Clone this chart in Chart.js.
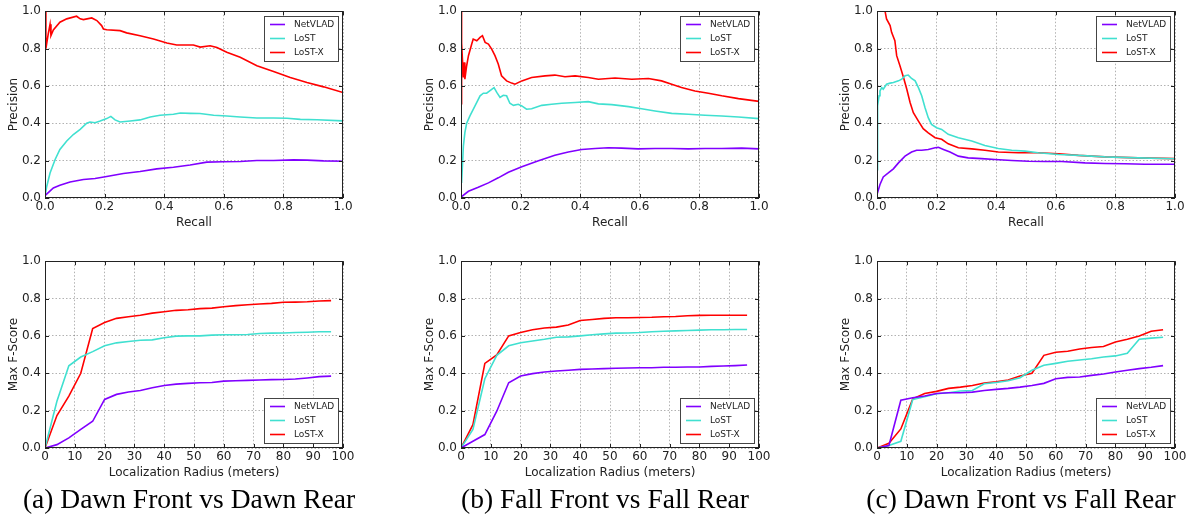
<!DOCTYPE html>
<html lang="en">
<head>
  <meta charset="UTF-8" />
  <title>Precision-Recall and Max F-Score</title>
  <script src="https://cdn.jsdelivr.net/npm/chart.js"></script>
  <style>
    body {
      margin: 0;
      background: #fff;
      width: 1188px;
      height: 516px;
      position: relative;
      overflow: hidden;
    }
    .panel {
      position: absolute;
      width: 357px;
      height: 240px;
    }
    .caption {
      position: absolute;
      top: 484px;
      width: 400px;
      text-align: center;
      font-family: 'Liberation Serif', 'Times New Roman', serif;
      font-size: 27.5px;
      line-height: 30px;
      color: #000;
      white-space: nowrap;
    }
  </style>
</head>
<body>
  <div class="panel" style="left:0;top:0"><canvas id="prA" width="357" height="240"></canvas></div>
  <div class="panel" style="left:416px;top:0"><canvas id="prB" width="357" height="240"></canvas></div>
  <div class="panel" style="left:832px;top:0"><canvas id="prC" width="357" height="240"></canvas></div>
  <div class="panel" style="left:0;top:250px"><canvas id="fA" width="357" height="240"></canvas></div>
  <div class="panel" style="left:416px;top:250px"><canvas id="fB" width="357" height="240"></canvas></div>
  <div class="panel" style="left:832px;top:250px"><canvas id="fC" width="357" height="240"></canvas></div>

  <div class="caption" style="left:-11px">(a) Dawn Front vs Dawn Rear</div>
  <div class="caption" style="left:405px">(b) Fall Front vs Fall Rear</div>
  <div class="caption" style="left:821px">(c) Dawn Front vs Fall Rear</div>

  <script>
    // ---- precision / recall, (a) dawn front vs dawn rear
    const aNetR = [0, .028, .05, .084, .129, .168, .207, .263, .319, .375, .431, .487, .543, .599, .655, .711, .767, .834, .879, .935, 1.0];
    const aNetP = [.013, .054, .068, .086, .099, .104, .115, .131, .142, .156, .165, .177, .192, .194, .195, .201, .201, .204, .203, .199, .197];
    const aLostR = [0, .006, .017, .034, .05, .073, .095, .118, .14, .151, .168, .185, .207, .221, .235, .252, .286, .319, .353, .386, .431, .454, .487, .52, .566, .61, .655, .711, .767, .812, .857, .913, 1.0];
    const aLostP = [.01, .063, .134, .206, .26, .305, .34, .367, .40, .407, .403, .412, .425, .437, .418, .407, .412, .418, .434, .443, .448, .455, .453, .452, .443, .439, .434, .428, .428, .427, .421, .419, .413];
    const aLostXR = [0, .003, .011, .017, .02, .028, .05, .073, .106, .118, .129, .157, .174, .19, .196, .207, .252, .274, .319, .364, .409, .442, .498, .521, .554, .577, .61, .655, .711, .767, .823, .879, .935, 1.0];
    const aLostXP = [1.0, .80, .88, .93, .87, .90, .941, .959, .973, .959, .955, .964, .95, .923, .905, .901, .896, .884, .869, .851, .83, .819, .819, .808, .815, .806, .78, .753, .708, .677, .645, .618, .595, .565];

    // ---- (b) fall front vs fall rear
    const bNetR = [0, .025, .058, .092, .125, .159, .204, .26, .315, .36, .405, .45, .494, .539, .595, .651, .707, .763, .819, .875, .942, 1.0];
    const bNetP = [.005, .036, .057, .081, .108, .138, .167, .199, .229, .246, .26, .265, .269, .267, .263, .265, .265, .263, .265, .265, .267, .263];
    const bLostR = [.002, .008, .013, .019, .03, .047, .064, .075, .086, .103, .111, .12, .131, .142, .153, .164, .176, .192, .204, .22, .237, .271, .304, .338, .383, .427, .461, .506, .562, .606, .651, .707, .763, .819, .875, .931, 1.0];
    const bLostP = [.08, .278, .35, .40, .44, .493, .547, .561, .561, .582, .591, .565, .538, .55, .547, .507, .496, .502, .493, .475, .478, .496, .502, .507, .511, .516, .504, .50, .489, .478, .466, .453, .448, .443, .439, .434, .425];
    const bLostXR = [0, .001, .003, .008, .011, .013, .019, .025, .036, .041, .053, .064, .072, .081, .092, .103, .114, .125, .136, .153, .17, .181, .204, .237, .282, .315, .349, .383, .427, .461, .517, .573, .629, .673, .707, .74, .785, .83, .875, .931, 1.0];
    const bLostXP = [1.0, .50, .83, .645, .726, .636, .708, .762, .824, .851, .842, .86, .869, .833, .824, .797, .762, .717, .654, .627, .615, .609, .627, .645, .654, .658, .649, .654, .645, .636, .642, .636, .64, .627, .609, .591, .573, .561, .547, .532, .517];

    // ---- (c) dawn front vs fall rear
    const cNetR = [0, .01, .021, .038, .055, .072, .094, .116, .133, .15, .172, .195, .206, .223, .245, .273, .306, .351, .396, .452, .508, .564, .62, .698, .765, .832, .899, 1.0];
    const cNetP = [.018, .072, .113, .134, .156, .188, .224, .246, .256, .256, .26, .269, .271, .26, .246, .224, .215, .211, .206, .201, .197, .195, .195, .188, .185, .183, .181, .181];
    const cLostR = [0, .002, .007, .01, .016, .021, .032, .044, .055, .072, .083, .094, .105, .116, .128, .139, .15, .161, .172, .183, .2, .217, .239, .273, .318, .362, .407, .452, .497, .541, .609, .676, .765, .877, 1.0];
    const cLostP = [.152, .493, .547, .573, .591, .582, .609, .615, .618, .627, .636, .654, .658, .64, .627, .591, .547, .484, .43, .394, .376, .367, .341, .323, .305, .281, .265, .256, .251, .242, .233, .228, .22, .215, .21];
    const cLostXR = [0, .027, .032, .044, .049, .06, .066, .077, .089, .1, .111, .122, .139, .155, .172, .195, .217, .239, .273, .318, .362, .407, .474, .541, .609, .676, .765, .877, 1.0];
    const cLostXP = [1.0, 1.0, .959, .923, .887, .842, .762, .708, .645, .582, .511, .457, .412, .371, .349, .323, .314, .29, .269, .263, .256, .246, .242, .242, .237, .228, .22, .215, .211];

    // ---- max F-score vs localization radius (meters)
    const radius = [0, 4, 8, 12, 16, 20, 24, 28, 32, 36, 40, 44, 48, 52, 56, 60, 64, 68, 72, 76, 80, 84, 88, 92, 96];
    const aNetF = [0, .018, .054, .10, .143, .26, .287, .30, .308, .323, .335, .342, .346, .349, .351, .358, .36, .362, .364, .366, .367, .369, .375, .382, .385];
    const aLostF = [0, .25, .44, .487, .516, .547, .563, .57, .577, .579, .59, .599, .60, .60, .604, .606, .606, .608, .613, .615, .616, .618, .62, .622, .622];
    const aLostXF = [0, .174, .278, .40, .64, .672, .694, .703, .711, .722, .729, .737, .74, .746, .749, .756, .762, .767, .771, .774, .78, .781, .783, .787, .789];
    const bNetF = [0, .036, .072, .197, .349, .385, .398, .407, .412, .416, .421, .423, .425, .427, .428, .43, .43, .432, .432, .434, .434, .437, .439, .441, .444];
    const bLostF = [0, .099, .371, .496, .547, .563, .573, .582, .593, .595, .60, .606, .611, .615, .616, .618, .622, .625, .627, .629, .631, .633, .633, .634, .634];
    const bLostXF = [0, .125, .453, .498, .60, .618, .633, .642, .647, .658, .683, .688, .694, .697, .697, .699, .70, .703, .704, .708, .71, .711, .711, .711, .711];
    const cNetF = [0, .013, .256, .269, .278, .292, .296, .296, .299, .308, .314, .319, .326, .335, .346, .371, .378, .38, .389, .396, .407, .416, .425, .432, .441];
    const cLostF = [0, .013, .036, .26, .274, .29, .296, .305, .308, .344, .351, .36, .376, .416, .443, .453, .464, .471, .478, .487, .493, .507, .582, .588, .593];
    const cLostXF = [0, .025, .102, .263, .292, .303, .319, .326, .335, .348, .355, .364, .385, .40, .496, .513, .518, .53, .538, .543, .568, .582, .599, .625, .633];

    const COLORS = { 'NetVLAD': '#8000ff', 'LoST': '#40e0d0', 'LoST-X': '#ff0000' };
    const FONT = { family: 'DejaVu Sans', size: 12 };
    const TEXT = '#222';

    function pts(xs, ys) {
      return xs.map((x, i) => ({ x: x, y: ys[i] }));
    }

    // matplotlib-like box around the axes, inward ticks, and a framed legend
    const framePlugin = {
      id: 'frame',
      afterDatasetsDraw(chart, args, opts) {
        const ctx = chart.ctx;
        const a = chart.chartArea;
        const sx = chart.scales.x, sy = chart.scales.y;
        ctx.save();
        ctx.strokeStyle = '#222';
        ctx.lineWidth = 1;
        ctx.strokeRect(Math.round(a.left) + 0.5, Math.round(a.top) + 0.5,
          Math.round(a.right - a.left) - 1, Math.round(a.bottom - a.top) - 1);
        ctx.beginPath();
        sx.ticks.forEach(t => {
          const px = Math.round(sx.getPixelForValue(t.value)) + 0.5;
          ctx.moveTo(px, a.bottom); ctx.lineTo(px, a.bottom - 4);
          ctx.moveTo(px, a.top); ctx.lineTo(px, a.top + 4);
        });
        sy.ticks.forEach(t => {
          const py = Math.round(sy.getPixelForValue(t.value)) + 0.5;
          ctx.moveTo(a.left, py); ctx.lineTo(a.left + 4, py);
          ctx.moveTo(a.right, py); ctx.lineTo(a.right - 4, py);
        });
        ctx.stroke();

        // legend
        const boxW = 74, boxH = 45;
        const bx = Math.round(a.right - 5 - boxW);
        const by = Math.round(opts.legendAt === 'top' ? a.top + 5 : a.bottom - 5 - boxH);
        ctx.fillStyle = '#fff';
        ctx.fillRect(bx, by, boxW, boxH);
        ctx.strokeStyle = '#444';
        ctx.strokeRect(bx + 0.5, by + 0.5, boxW, boxH);
        ctx.font = '9px "DejaVu Sans"';
        ctx.textBaseline = 'middle';
        chart.data.datasets.forEach((ds, i) => {
          const yy = by + 8.5 + i * 14;
          ctx.strokeStyle = ds.borderColor;
          ctx.lineWidth = 1.6;
          ctx.beginPath();
          ctx.moveTo(bx + 6, yy);
          ctx.lineTo(bx + 21, yy);
          ctx.stroke();
          ctx.fillStyle = TEXT;
          ctx.fillText(ds.label, bx + 30, yy);
        });
        ctx.restore();
      }
    };

    function makeChart(id, cfg) {
      new Chart(document.getElementById(id), {
        type: 'line',
        data: {
          datasets: cfg.lines.map(l => ({
            label: l.name,
            data: l.data,
            borderColor: COLORS[l.name],
            backgroundColor: COLORS[l.name],
            borderWidth: 1.6,
            pointRadius: 0,
            tension: 0,
            fill: false
          }))
        },
        options: {
          responsive: false,
          animation: false,
          layout: { padding: { top: 11, right: 14, left: 0, bottom: 0 } },
          plugins: {
            legend: { display: false },
            tooltip: { enabled: false },
            frame: { legendAt: cfg.legendAt }
          },
          scales: {
            x: {
              type: 'linear',
              min: 0,
              max: cfg.xMax,
              ticks: {
                stepSize: cfg.xStep,
                autoSkip: false,
                maxRotation: 0,
                padding: 2,
                color: TEXT,
                font: FONT,
                callback: v => cfg.xMax === 1 ? v.toFixed(1) : String(Math.round(v))
              },
              grid: { color: 'rgba(0,0,0,0.3)', drawTicks: false },
              border: { display: false, dash: [1.5, 2] },
              title: { display: true, text: cfg.xTitle, color: TEXT, font: FONT, padding: { top: 0, bottom: 10 } },
              afterFit: s => { s.height = 42; }
            },
            y: {
              min: 0,
              max: 1,
              ticks: {
                stepSize: 0.2,
                padding: 4,
                color: TEXT,
                font: FONT,
                callback: v => v.toFixed(1)
              },
              grid: { color: 'rgba(0,0,0,0.3)', drawTicks: false },
              border: { display: false, dash: [1.5, 2] },
              title: { display: true, text: cfg.yTitle, color: TEXT, font: FONT, padding: { top: 7, bottom: 0 } },
              afterFit: s => { s.width = 45; }
            }
          }
        },
        plugins: [framePlugin]
      });
    }

    const prPanels = [
      ['prA', [pts(aNetR, aNetP), pts(aLostR, aLostP), pts(aLostXR, aLostXP)]],
      ['prB', [pts(bNetR, bNetP), pts(bLostR, bLostP), pts(bLostXR, bLostXP)]],
      ['prC', [pts(cNetR, cNetP), pts(cLostR, cLostP), pts(cLostXR, cLostXP)]]
    ];
    const fPanels = [
      ['fA', [aNetF, aLostF, aLostXF]],
      ['fB', [bNetF, bLostF, bLostXF]],
      ['fC', [cNetF, cLostF, cLostXF]]
    ];
    const names = ['NetVLAD', 'LoST', 'LoST-X'];

    prPanels.forEach(([id, series]) => {
      makeChart(id, {
        xMax: 1, xStep: 0.2, xTitle: 'Recall', yTitle: 'Precision', legendAt: 'top',
        lines: series.map((d, i) => ({ name: names[i], data: d }))
      });
    });
    fPanels.forEach(([id, series]) => {
      makeChart(id, {
        xMax: 100, xStep: 10, xTitle: 'Localization Radius (meters)', yTitle: 'Max F-Score', legendAt: 'bottom',
        lines: series.map((ys, i) => ({ name: names[i], data: pts(radius, ys) }))
      });
    });
  </script>
</body>
</html>
